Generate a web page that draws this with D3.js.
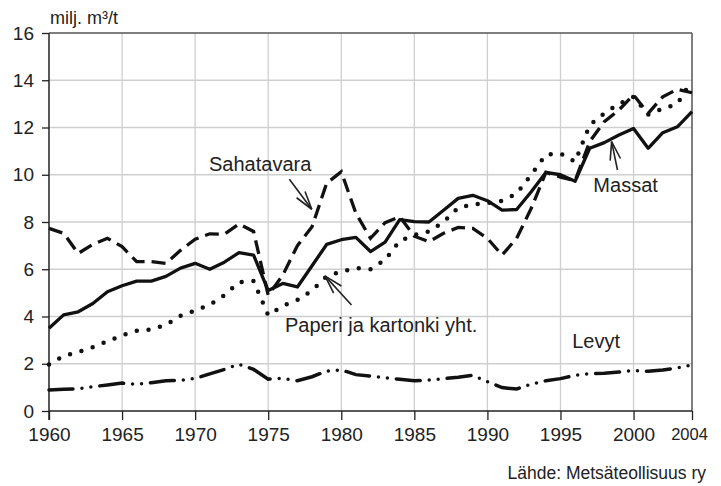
<!DOCTYPE html>
<html>
<head>
<meta charset="utf-8">
<script src="https://cdn.jsdelivr.net/npm/d3@7"></script>
<style>
  body { margin: 0; background: #fff; }
  svg text { font-family: "Liberation Sans", Arial, sans-serif; fill: #222; }
</style>
</head>
<body>
<script>
var years = d3.range(1960, 2005);

var massat = [3.5, 4.07, 4.2, 4.55, 5.05, 5.3, 5.5, 5.5, 5.7, 6.05,
  6.25, 6.0, 6.3, 6.7, 6.6, 5.1, 5.4, 5.25, 6.15, 7.05,
  7.25, 7.35, 6.75, 7.15, 8.1, 8.02, 8.0, 8.5, 9.0, 9.13,
  8.9, 8.5, 8.53, 9.28, 10.1, 10.0, 9.72, 11.12, 11.36, 11.68,
  11.96, 11.12, 11.78, 12.03, 12.67];

var sahatavara = [7.73, 7.52, 6.67, 7.05, 7.31, 6.96, 6.32, 6.32, 6.25, 6.8,
  7.27, 7.5, 7.48, 7.92, 7.6, 4.9, 5.75, 7.0, 7.8, 9.64,
  10.13, 8.37, 7.31, 7.97, 8.22, 7.4, 7.17, 7.52, 7.77, 7.73,
  7.31, 6.6, 7.31, 8.58, 10.1, 9.9, 9.75, 11.4, 12.25, 12.74,
  13.38, 12.6, 13.3, 13.62, 13.47];

var paperi = [1.97, 2.33, 2.5, 2.7, 2.95, 3.2, 3.4, 3.45, 3.65, 4.03,
  4.25, 4.5, 4.9, 5.45, 5.5, 4.05, 4.45, 4.7, 5.1, 5.7,
  5.9, 6.05, 6.0, 6.4, 7.2, 7.45, 7.6, 8.0, 8.6, 8.75,
  8.8, 8.9, 9.2, 10.0, 10.85, 10.9, 10.55, 12.1, 12.6, 13.0,
  13.3, 12.55, 12.8, 13.0, 14.0];

var levyt = [0.89, 0.92, 0.94, 1.03, 1.1, 1.18, 1.13, 1.2, 1.28, 1.3,
  1.38, 1.57, 1.76, 1.98, 1.76, 1.35, 1.38, 1.28, 1.45, 1.69,
  1.74, 1.54, 1.48, 1.41, 1.34, 1.28, 1.31, 1.37, 1.43, 1.51,
  1.24, 0.99, 0.93, 1.14, 1.28, 1.37, 1.51, 1.58, 1.6, 1.65,
  1.71, 1.68, 1.74, 1.82, 1.95];

var xTicks = [1960, 1965, 1970, 1975, 1980, 1985, 1990, 1995, 2000, 2004];
var yTicks = [0, 2, 4, 6, 8, 10, 12, 14, 16];

// labels and arrows, placed in data units (year, value)
var labels = [
  {text: "Sahatavara", year: 1970.95, value: 10.16},
  {text: "Massat", year: 1997.25, value: 9.27},
  {text: "Paperi ja kartonki yht.", year: 1976.15, value: 3.34},
  {text: "Levyt", year: 1995.8, value: 2.65}
];
var arrows = [
  {from: [1976.45, 9.81], to: [1977.98, 8.54]},
  {from: [1980.7, 4.49], to: [1978.9, 5.71]},
  {from: [1998.9, 10.2], to: [1998.5, 11.4]}
];

var width = 721, height = 486;
var margin = {top: 33, right: 29, bottom: 75, left: 49};

var x = d3.scaleLinear().domain([1960, 2004]).range([margin.left, width - margin.right]);
var y = d3.scaleLinear().domain([0, 16]).range([height - margin.bottom, margin.top]);

var svg = d3.select("body").append("svg")
  .attr("width", width)
  .attr("height", height);

// grid
svg.append("g").selectAll("line")
  .data(yTicks.filter(function(d) { return d > 0 && d < 16; }))
  .enter().append("line")
  .attr("x1", x(1960)).attr("x2", x(2004))
  .attr("y1", function(d) { return y(d); })
  .attr("y2", function(d) { return y(d); })
  .attr("stroke", "#cfcfcf").attr("stroke-width", 1.3);

svg.append("g").selectAll("line")
  .data(xTicks.filter(function(d) { return d > 1960 && d < 2004; }))
  .enter().append("line")
  .attr("x1", function(d) { return x(d); })
  .attr("x2", function(d) { return x(d); })
  .attr("y1", y(0)).attr("y2", y(16))
  .attr("stroke", "#cfcfcf").attr("stroke-width", 1.3);

// frame top and right
svg.append("line")
  .attr("x1", x(1960)).attr("x2", x(2004))
  .attr("y1", y(16)).attr("y2", y(16))
  .attr("stroke", "#555").attr("stroke-width", 1.3);
svg.append("line")
  .attr("x1", x(2004)).attr("x2", x(2004))
  .attr("y1", y(16)).attr("y2", y(0))
  .attr("stroke", "#555").attr("stroke-width", 1.5);

// axes
var xAxis = svg.append("g")
  .attr("transform", "translate(0," + y(0) + ")")
  .call(d3.axisBottom(x).tickValues(xTicks).tickFormat(d3.format("d")).tickSize(9).tickSizeOuter(0).tickPadding(8));
xAxis.selectAll("text")
  .style("font-size", function(d) { return d == 2004 ? "16.5px" : "19px"; })
  .attr("dx", function(d) { return d == 2004 ? "-3" : "0"; });

var yAxis = svg.append("g")
  .attr("transform", "translate(" + x(1960) + ",0)")
  .call(d3.axisLeft(y).tickValues(yTicks).tickSize(7).tickSizeOuter(0).tickPadding(8));
yAxis.selectAll("text").style("font-size", "19px");

svg.selectAll(".domain").attr("stroke", "#222").attr("stroke-width", 1.5);
svg.selectAll(".tick line").attr("stroke", "#222").attr("stroke-width", 1.3);
svg.selectAll(".tick text").style("font-family", "'Liberation Sans', Arial, sans-serif").attr("fill", "#222");
xAxis.select(".domain").attr("d", "M" + x(1960) + ",0H" + x(2004));
yAxis.select(".domain").attr("d", "M0," + (y(0) + 9) + "V" + y(16));

// series
var line = d3.line()
  .x(function(d, i) { return x(years[i]); })
  .y(function(d) { return y(d); });

svg.append("path")
  .datum(levyt)
  .attr("d", line)
  .attr("fill", "none")
  .attr("stroke", "#111")
  .attr("stroke-width", 3.5)
  .attr("stroke-linecap", "round")
  .attr("stroke-dasharray", "24,9,0,9,0,9");

svg.append("path")
  .datum(paperi)
  .attr("d", line)
  .attr("fill", "none")
  .attr("stroke", "#111")
  .attr("stroke-width", 4.5)
  .attr("stroke-linecap", "round")
  .attr("stroke-dasharray", "0,11.8");

svg.append("path")
  .datum(sahatavara)
  .attr("d", line)
  .attr("fill", "none")
  .attr("stroke", "#111")
  .attr("stroke-width", 3.3)
  .attr("stroke-dasharray", "14,7");

svg.append("path")
  .datum(massat)
  .attr("d", line)
  .attr("fill", "none")
  .attr("stroke", "#111")
  .attr("stroke-width", 3.3)
  .attr("stroke-linejoin", "round");

// labels
svg.selectAll(".lbl")
  .data(labels)
  .enter().append("text")
  .attr("class", "lbl")
  .attr("x", function(d) { return x(d.year); })
  .attr("y", function(d) { return y(d.value); })
  .style("font-size", "20px")
  .text(function(d) { return d.text; });

// arrows: shaft plus two long thin barbs
arrows.forEach(function(a) {
  var x1 = x(a.from[0]), y1 = y(a.from[1]);
  var x2 = x(a.to[0]), y2 = y(a.to[1]);
  var ang = Math.atan2(y1 - y2, x1 - x2);
  var g = svg.append("g").attr("stroke", "#222").attr("stroke-width", 1.6);
  g.append("line").attr("x1", x1).attr("y1", y1).attr("x2", x2).attr("y2", y2);
  [-0.28, 0.28].forEach(function(off) {
    g.append("line")
      .attr("x1", x2).attr("y1", y2)
      .attr("x2", x2 + 19 * Math.cos(ang + off))
      .attr("y2", y2 + 19 * Math.sin(ang + off));
  });
});

// unit and source
svg.append("text")
  .attr("x", 50).attr("y", 24)
  .style("font-size", "18px")
  .text("milj. m\u00b3/t");

svg.append("text")
  .attr("x", 706).attr("y", 479)
  .attr("text-anchor", "end")
  .style("font-size", "17.5px")
  .text("L\u00e4hde: Mets\u00e4teollisuus ry");
</script>
</body>
</html>
